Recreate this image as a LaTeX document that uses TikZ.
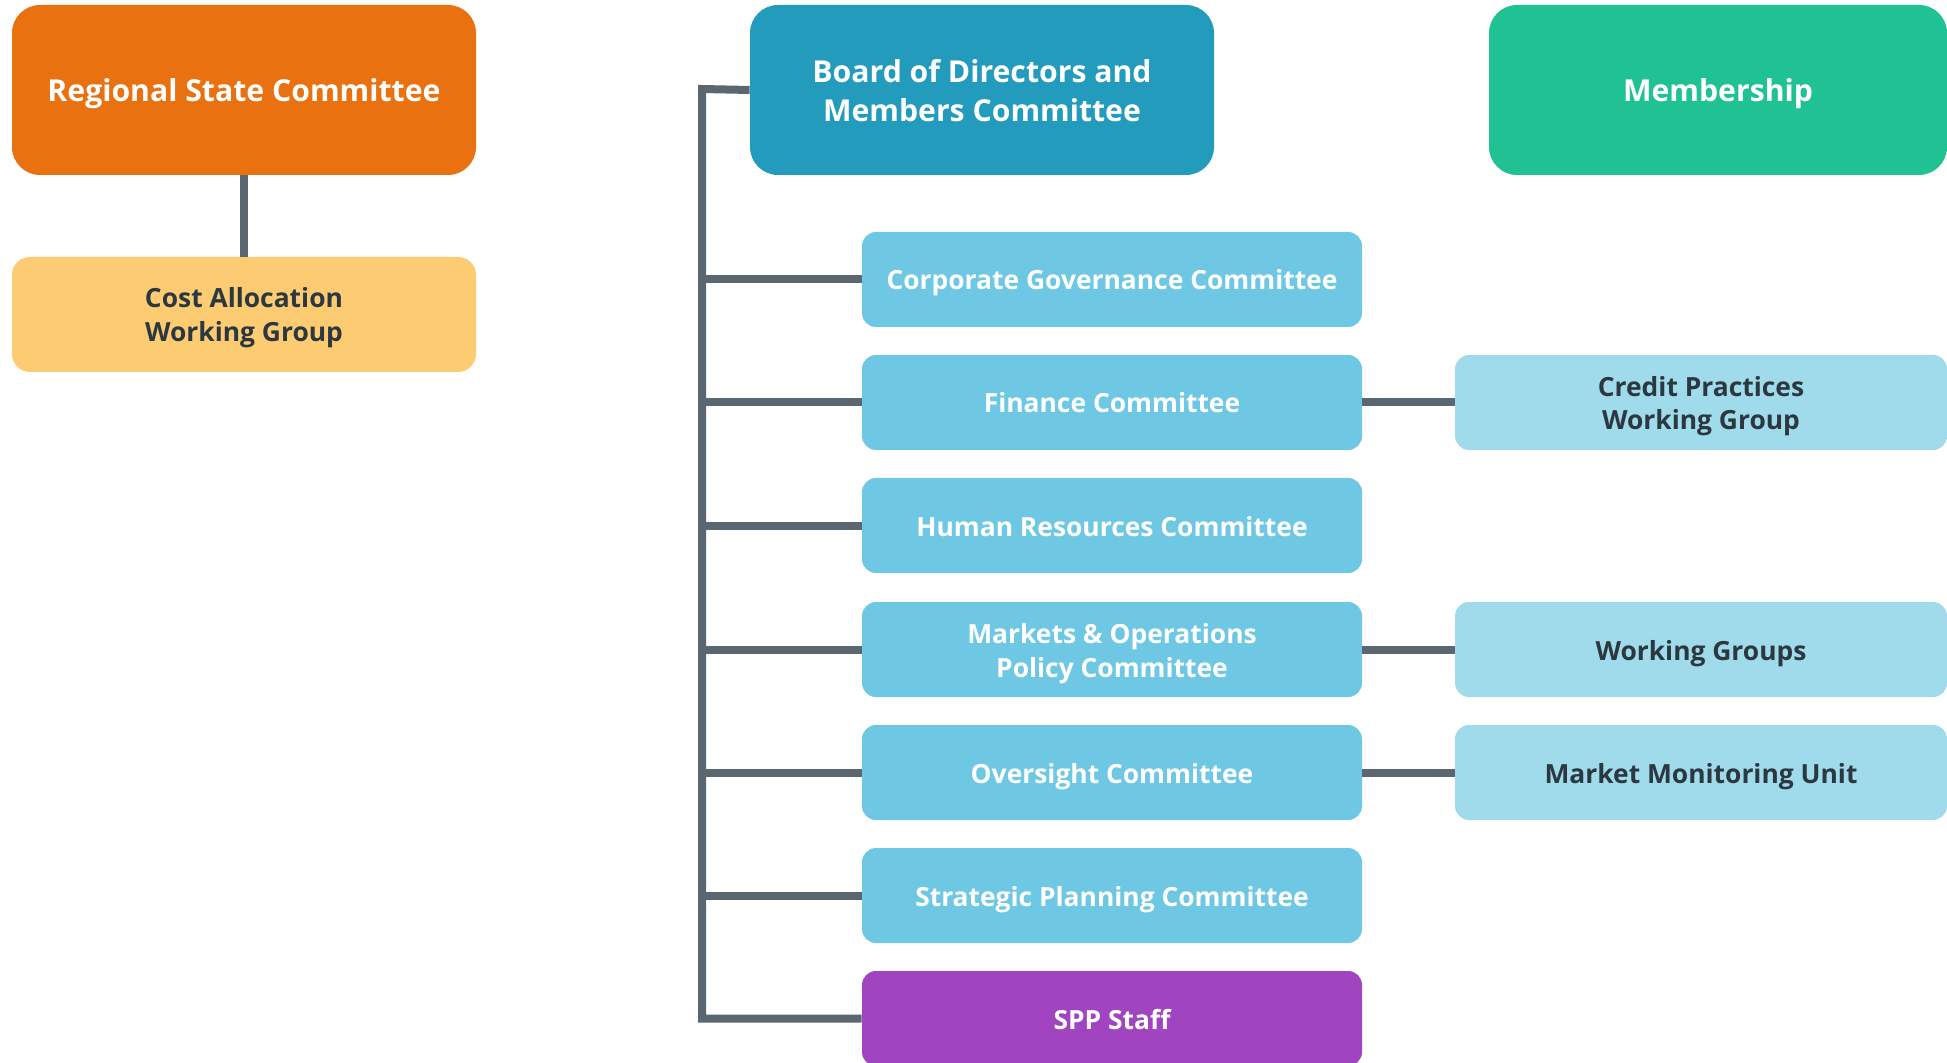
\documentclass[tikz,border=0pt]{standalone}
\usepackage{fontspec}
\setmainfont{Open Sans}
\usepackage{tikz}

\definecolor{rscorange}{HTML}{E97110}
\definecolor{cawyellow}{HTML}{FDCB72}
\definecolor{boardblue}{HTML}{229BBD}
\definecolor{membgreen}{HTML}{20C193}
\definecolor{commblue}{HTML}{6EC8E4}
\definecolor{subblue}{HTML}{A0DBEC}
\definecolor{staffpurple}{HTML}{A044BF}
\definecolor{linkgray}{HTML}{5A6670}
\definecolor{textdark}{HTML}{2B3840}

% struts above the first line and below the last one, so text sits alike in every box
\newcommand{\bigtop}{\rule{0pt}{18pt}}
\newcommand{\bigbot}{\rule[-6pt]{0pt}{0pt}}
\newcommand{\smalltop}{\rule{0pt}{15.5pt}}
\newcommand{\smallbot}{\rule[-5pt]{0pt}{0pt}}

\tikzset{
  topbox/.style={rounded corners=14pt,minimum width=232pt,minimum height=85pt,
    text=white,align=center,font=\fontsize{15.1}{19.3}\selectfont\bfseries,
    execute at begin node=\bigtop,execute at end node=\bigbot},
  commbox/.style={fill=commblue,rounded corners=7pt,minimum width=250pt,minimum height=47.5pt,
    text=white,align=center,font=\fontsize{13.2}{17}\selectfont\bfseries,
    execute at begin node=\smalltop,execute at end node=\smallbot},
  subbox/.style={commbox,fill=subblue,text=textdark,minimum width=246pt},
  link/.style={draw=linkgray,line width=4pt},
}

\begin{document}
\begin{tikzpicture}[x=0.5pt,y=-0.5pt]
\path[use as bounding box,clip] (0,0) rectangle (1947,1063);
% Left column
\node[topbox,fill=rscorange] (rsc) at (244,90) {Regional State Committee};
\node[commbox,fill=cawyellow,text=textdark,minimum width=232pt,minimum height=57.5pt,
  rounded corners=9pt] (caw) at (244,314.5) {\smalltop Cost Allocation\\Working Group};
\draw[link] (rsc.south) -- (caw.north);
% Board and membership
\node[topbox,fill=boardblue] (board) at (982,90) {\bigtop Board of Directors and\\Members Committee};
\node[topbox,fill=membgreen,minimum width=229pt] (memb) at (1718,90) {Membership};
% Committees
\node[commbox] (cgc) at (1112,279.5) {Corporate Governance Committee};
\node[commbox] (fin) at (1112,402.5) {Finance Committee};
\node[commbox] (hrc) at (1112,525.5) {Human Resources Committee};
\node[commbox] (mop) at (1112,649.5) {\smalltop Markets \& Operations\\Policy Committee};
\node[commbox] (ovs) at (1112,772.5) {Oversight Committee};
\node[commbox] (spc) at (1112,895.5) {Strategic Planning Committee};
\node[commbox,fill=staffpurple] (spp) at (1112,1018.5) {SPP Staff};
% Groups on the right
\node[subbox] (cpw) at (1701,402.5) {\smalltop Credit Practices\\Working Group};
\node[subbox] (wgs) at (1701,649.5) {Working Groups};
\node[subbox] (mmu) at (1701,772.5) {Market Monitoring Unit};
% Trunk from the board
\coordinate (trunk) at (702,89);
\draw[link] (board.west) -- (trunk) |- (spp.west);
\foreach \c in {cgc,fin,hrc,mop,ovs,spc} {
  \draw[link] (\c.west) -- (\c.west -| trunk);
}
\draw[link] (fin.east) -- (cpw.west);
\draw[link] (mop.east) -- (wgs.west);
\draw[link] (ovs.east) -- (mmu.west);
\end{tikzpicture}
\end{document}
